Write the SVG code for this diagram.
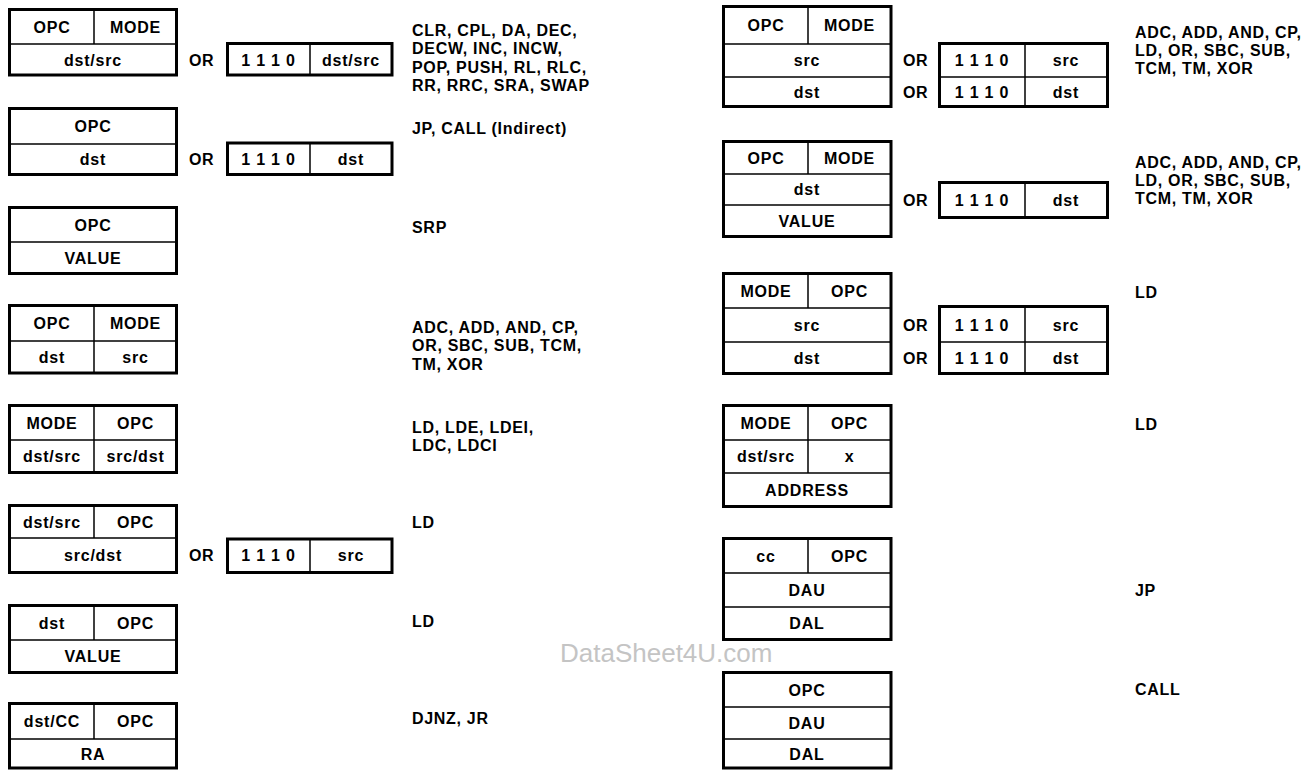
<svg xmlns="http://www.w3.org/2000/svg" width="1307" height="770" viewBox="0 0 1307 770">
<style>
  .box { fill: #ffffff; stroke: #000000; stroke-width: 3; }
  .ln { stroke: #000000; stroke-width: 1.5; fill: none; }
  .t { font-family: "Liberation Sans", Arial, sans-serif; font-weight: bold; font-size: 16px; letter-spacing: 0.8px; fill: #000; text-anchor: middle; }
  .or { font-family: "Liberation Sans", Arial, sans-serif; font-weight: bold; font-size: 16px; letter-spacing: 0.5px; fill: #000; }
  .lbl { font-family: "Liberation Sans", Arial, sans-serif; font-weight: bold; font-size: 16px; letter-spacing: 0.7px; fill: #000; }
  .wm { font-family: "Liberation Sans", Arial, sans-serif; font-size: 26px; fill: #c4c4c4; }
</style>
<rect width="1307" height="770" fill="#ffffff"/>

<!-- Left column -->
<g id="L1">
  <rect class="box" x="9.5" y="9.5" width="167" height="65.5"/>
  <line class="ln" x1="9.5" y1="44" x2="176.5" y2="44"/>
  <line class="ln" x1="94" y1="9.5" x2="94" y2="44"/>
  <text class="t" x="52" y="32.5">OPC</text>
  <text class="t" x="135.5" y="32.5">MODE</text>
  <text class="t" x="93" y="65.5">dst/src</text>
  <text class="or" x="189" y="65.5">OR</text>
  <rect class="box" x="227.5" y="43.5" width="164.5" height="31.5"/>
  <line class="ln" x1="310" y1="43.5" x2="310" y2="75"/>
  <text class="t" x="268.5" y="65.5">1 1 1 0</text>
  <text class="t" x="351" y="65.5">dst/src</text>
  <text class="lbl" x="412" y="35.5">CLR, CPL, DA, DEC,</text>
  <text class="lbl" x="412" y="54">DECW, INC, INCW,</text>
  <text class="lbl" x="412" y="72.5">POP, PUSH, RL, RLC,</text>
  <text class="lbl" x="412" y="91">RR, RRC, SRA, SWAP</text>
</g>

<g id="L2">
  <rect class="box" x="9.5" y="108.5" width="167" height="66"/>
  <line class="ln" x1="9.5" y1="144" x2="176.5" y2="144"/>
  <text class="t" x="93" y="131.5">OPC</text>
  <text class="t" x="93" y="165">dst</text>
  <text class="or" x="189" y="165">OR</text>
  <rect class="box" x="227.5" y="143" width="164.5" height="31.5"/>
  <line class="ln" x1="310" y1="143" x2="310" y2="174.5"/>
  <text class="t" x="268.5" y="165">1 1 1 0</text>
  <text class="t" x="351" y="165">dst</text>
  <text class="lbl" x="412" y="133.5">JP, CALL (Indirect)</text>
</g>

<g id="L3">
  <rect class="box" x="9.5" y="207.5" width="167" height="66"/>
  <line class="ln" x1="9.5" y1="242" x2="176.5" y2="242"/>
  <text class="t" x="93" y="230.5">OPC</text>
  <text class="t" x="93" y="263.5">VALUE</text>
  <text class="lbl" x="412" y="232.5">SRP</text>
</g>

<g id="L4">
  <rect class="box" x="9.5" y="305.5" width="167" height="67.5"/>
  <line class="ln" x1="9.5" y1="341" x2="176.5" y2="341"/>
  <line class="ln" x1="94" y1="305.5" x2="94" y2="373"/>
  <text class="t" x="52" y="328.5">OPC</text>
  <text class="t" x="135.5" y="328.5">MODE</text>
  <text class="t" x="52" y="363">dst</text>
  <text class="t" x="135.5" y="363">src</text>
  <text class="lbl" x="412" y="332.5">ADC, ADD, AND, CP,</text>
  <text class="lbl" x="412" y="351">OR, SBC, SUB, TCM,</text>
  <text class="lbl" x="412" y="369.5">TM, XOR</text>
</g>

<g id="L5">
  <rect class="box" x="9.5" y="405.5" width="167" height="67"/>
  <line class="ln" x1="9.5" y1="440" x2="176.5" y2="440"/>
  <line class="ln" x1="94" y1="405.5" x2="94" y2="472.5"/>
  <text class="t" x="52" y="428.5">MODE</text>
  <text class="t" x="135.5" y="428.5">OPC</text>
  <text class="t" x="52" y="462">dst/src</text>
  <text class="t" x="135.5" y="462">src/dst</text>
  <text class="lbl" x="412" y="432.5">LD, LDE, LDEI,</text>
  <text class="lbl" x="412" y="451">LDC, LDCI</text>
</g>

<g id="L6">
  <rect class="box" x="9.5" y="505.5" width="167" height="67"/>
  <line class="ln" x1="9.5" y1="538" x2="176.5" y2="538"/>
  <line class="ln" x1="94" y1="505.5" x2="94" y2="538"/>
  <text class="t" x="52" y="527.5">dst/src</text>
  <text class="t" x="135.5" y="527.5">OPC</text>
  <text class="t" x="93" y="561">src/dst</text>
  <text class="or" x="189" y="561">OR</text>
  <rect class="box" x="227.5" y="539" width="164.5" height="33.5"/>
  <line class="ln" x1="310" y1="539" x2="310" y2="572.5"/>
  <text class="t" x="268.5" y="561">1 1 1 0</text>
  <text class="t" x="351" y="561">src</text>
  <text class="lbl" x="412" y="527.5">LD</text>
</g>

<g id="L7">
  <rect class="box" x="9.5" y="605.5" width="167" height="67"/>
  <line class="ln" x1="9.5" y1="640" x2="176.5" y2="640"/>
  <line class="ln" x1="94" y1="605.5" x2="94" y2="640"/>
  <text class="t" x="52" y="628.5">dst</text>
  <text class="t" x="135.5" y="628.5">OPC</text>
  <text class="t" x="93" y="662">VALUE</text>
  <text class="lbl" x="412" y="626.5">LD</text>
</g>

<g id="L8">
  <rect class="box" x="9.5" y="703.5" width="167" height="64.5"/>
  <line class="ln" x1="9.5" y1="739" x2="176.5" y2="739"/>
  <line class="ln" x1="94" y1="703.5" x2="94" y2="739"/>
  <text class="t" x="52" y="726.5">dst/CC</text>
  <text class="t" x="135.5" y="726.5">OPC</text>
  <text class="t" x="93" y="759.5">RA</text>
  <text class="lbl" x="412" y="723.5">DJNZ, JR</text>
</g>

<!-- Right column -->
<g id="R1">
  <rect class="box" x="723.5" y="6.5" width="167.5" height="100"/>
  <line class="ln" x1="723.5" y1="44" x2="891" y2="44"/>
  <line class="ln" x1="723.5" y1="77" x2="891" y2="77"/>
  <line class="ln" x1="808" y1="6.5" x2="808" y2="44"/>
  <text class="t" x="766" y="31">OPC</text>
  <text class="t" x="849.5" y="31">MODE</text>
  <text class="t" x="807" y="66">src</text>
  <text class="t" x="807" y="98">dst</text>
  <text class="or" x="903" y="66">OR</text>
  <text class="or" x="903" y="98">OR</text>
  <rect class="box" x="939.5" y="43.5" width="168" height="63"/>
  <line class="ln" x1="939.5" y1="77" x2="1107.5" y2="77"/>
  <line class="ln" x1="1025" y1="43.5" x2="1025" y2="106.5"/>
  <text class="t" x="982" y="66">1 1 1 0</text>
  <text class="t" x="1066" y="66">src</text>
  <text class="t" x="982" y="98">1 1 1 0</text>
  <text class="t" x="1066" y="98">dst</text>
  <text class="lbl" x="1135" y="37.5">ADC, ADD, AND, CP,</text>
  <text class="lbl" x="1135" y="55.5">LD, OR, SBC, SUB,</text>
  <text class="lbl" x="1135" y="73.5">TCM, TM, XOR</text>
</g>

<g id="R2">
  <rect class="box" x="723.5" y="141.5" width="167.5" height="95"/>
  <line class="ln" x1="723.5" y1="174" x2="891" y2="174"/>
  <line class="ln" x1="723.5" y1="205" x2="891" y2="205"/>
  <line class="ln" x1="808" y1="141.5" x2="808" y2="174"/>
  <text class="t" x="766" y="163.5">OPC</text>
  <text class="t" x="849.5" y="163.5">MODE</text>
  <text class="t" x="807" y="195">dst</text>
  <text class="t" x="807" y="227">VALUE</text>
  <text class="or" x="903" y="206">OR</text>
  <rect class="box" x="939.5" y="182.5" width="168" height="35"/>
  <line class="ln" x1="1025" y1="182.5" x2="1025" y2="217.5"/>
  <text class="t" x="982" y="206">1 1 1 0</text>
  <text class="t" x="1066" y="206">dst</text>
  <text class="lbl" x="1135" y="167.5">ADC, ADD, AND, CP,</text>
  <text class="lbl" x="1135" y="185.5">LD, OR, SBC, SUB,</text>
  <text class="lbl" x="1135" y="203.5">TCM, TM, XOR</text>
</g>

<g id="R3">
  <rect class="box" x="723.5" y="273.5" width="167.5" height="100"/>
  <line class="ln" x1="723.5" y1="308" x2="891" y2="308"/>
  <line class="ln" x1="723.5" y1="342" x2="891" y2="342"/>
  <line class="ln" x1="808" y1="273.5" x2="808" y2="308"/>
  <text class="t" x="766" y="296.5">MODE</text>
  <text class="t" x="849.5" y="296.5">OPC</text>
  <text class="t" x="807" y="330.5">src</text>
  <text class="t" x="807" y="363.5">dst</text>
  <text class="or" x="903" y="330.5">OR</text>
  <text class="or" x="903" y="363.5">OR</text>
  <rect class="box" x="939.5" y="306.5" width="168" height="67"/>
  <line class="ln" x1="939.5" y1="342" x2="1107.5" y2="342"/>
  <line class="ln" x1="1025" y1="306.5" x2="1025" y2="373.5"/>
  <text class="t" x="982" y="330.5">1 1 1 0</text>
  <text class="t" x="1066" y="330.5">src</text>
  <text class="t" x="982" y="363.5">1 1 1 0</text>
  <text class="t" x="1066" y="363.5">dst</text>
  <text class="lbl" x="1135" y="297.5">LD</text>
</g>

<g id="R4">
  <rect class="box" x="723.5" y="405.5" width="167.5" height="101"/>
  <line class="ln" x1="723.5" y1="440" x2="891" y2="440"/>
  <line class="ln" x1="723.5" y1="473" x2="891" y2="473"/>
  <line class="ln" x1="808" y1="405.5" x2="808" y2="473"/>
  <text class="t" x="766" y="428.5">MODE</text>
  <text class="t" x="849.5" y="428.5">OPC</text>
  <text class="t" x="766" y="462">dst/src</text>
  <text class="t" x="849.5" y="462">x</text>
  <text class="t" x="807" y="495.5">ADDRESS</text>
  <text class="lbl" x="1135" y="429.5">LD</text>
</g>

<g id="R5">
  <rect class="box" x="723.5" y="538.5" width="167.5" height="101"/>
  <line class="ln" x1="723.5" y1="573" x2="891" y2="573"/>
  <line class="ln" x1="723.5" y1="607" x2="891" y2="607"/>
  <line class="ln" x1="808" y1="538.5" x2="808" y2="573"/>
  <text class="t" x="766" y="561.5">cc</text>
  <text class="t" x="849.5" y="561.5">OPC</text>
  <text class="t" x="807" y="595.5">DAU</text>
  <text class="t" x="807" y="629">DAL</text>
  <text class="lbl" x="1135" y="595.5">JP</text>
</g>

<g id="R6">
  <rect class="box" x="723.5" y="672.5" width="167.5" height="95.5"/>
  <line class="ln" x1="723.5" y1="707" x2="891" y2="707"/>
  <line class="ln" x1="723.5" y1="739" x2="891" y2="739"/>
  <text class="t" x="807" y="695.5">OPC</text>
  <text class="t" x="807" y="728.5">DAU</text>
  <text class="t" x="807" y="760">DAL</text>
  <text class="lbl" x="1135" y="694.5">CALL</text>
</g>

<g id="connectors"></g>

<text class="wm" x="560" y="662">DataSheet4U.com</text>
</svg>
